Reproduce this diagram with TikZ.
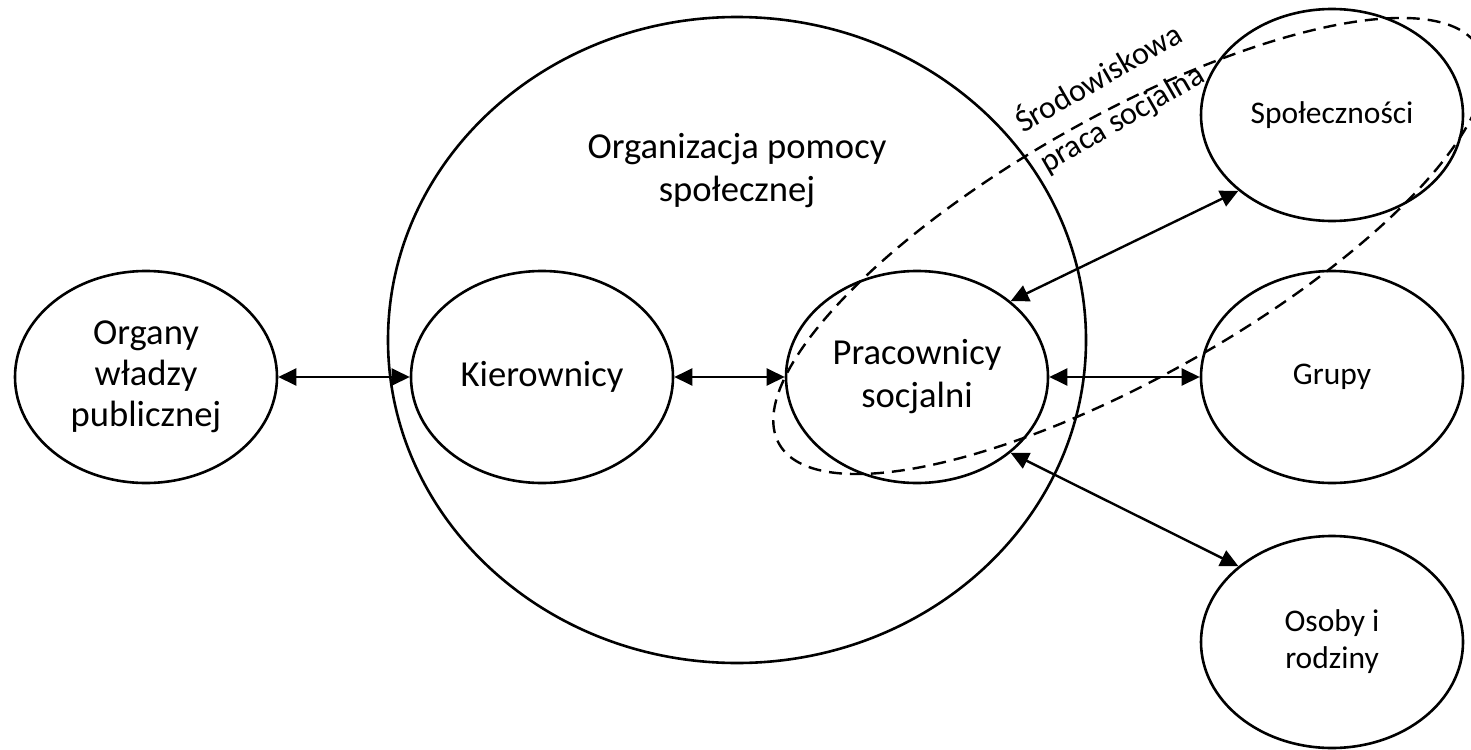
\documentclass[tikz,border=0pt]{standalone}
\usepackage{fontspec}
\setmainfont{Carlito}
\usetikzlibrary{shapes.geometric,arrows.meta}
\begin{document}
\begin{tikzpicture}[x=0.5pt,y=-0.5pt,
  bigfont/.style={font=\fontsize{18.3pt}{20.5pt}\selectfont},
  smallfont/.style={font=\fontsize{15.75pt}{18.5pt}\selectfont},
  ell/.style={draw, ellipse, line width=1.3pt, minimum width=131pt, minimum height=106pt, inner sep=0pt, align=center},
  biarrow/.style={line width=1.2pt, {Triangle[length=9pt,width=8.5pt]}-{Triangle[length=9pt,width=8.5pt]}},
  zone/.style={draw, line width=1.2pt, dash pattern=on 6.5pt off 4pt}]
\useasboundingbox (0,0) rectangle (1471,749);
\clip (0,0) rectangle (1471,749);
% big organisation ellipse
\node[draw, ellipse, line width=1.3pt, minimum width=349pt, minimum height=323pt, inner sep=0pt] (ops) at (737,340) {};
\node[bigfont, align=center] (opstext) at (737,171) {Organizacja pomocy\\[1pt]społecznej};
% nodes
\node[ell, bigfont] (org) at (146,377) {Organy\\władzy\\publicznej};
\node[ell, bigfont] (kie) at (542,377) {Kierownicy};
\node[ell, bigfont] (pra) at (917,377) {Pracownicy\\[1pt]socjalni};
\node[ell, smallfont] (spo) at (1332,115) {Społeczności};
\node[ell, smallfont] (gru) at (1332,377) {Grupy};
\node[ell, smallfont] (oso) at (1332,642) {Osoby i\\rodziny};
% connectors
\draw[biarrow] (org.east) -- (kie.west);
\draw[biarrow] (kie.east) -- (pra.west);
\draw[biarrow] (pra.east) -- (gru.west);
\draw[biarrow] (pra.39.6) -- (spo.219.3);
\draw[biarrow] (pra.321.1) -- (oso.141.4);
% community social work zone
\draw[zone, shift={(1129,246)}, rotate=29.5] (0,0) ellipse [x radius=402, y radius=130];
\node[font=\fontsize{16pt}{23pt}\selectfont, align=center, rotate=30] (zonetext) at (1110,98) {Środowiskowa\\praca socjalna};
\end{tikzpicture}
\end{document}
